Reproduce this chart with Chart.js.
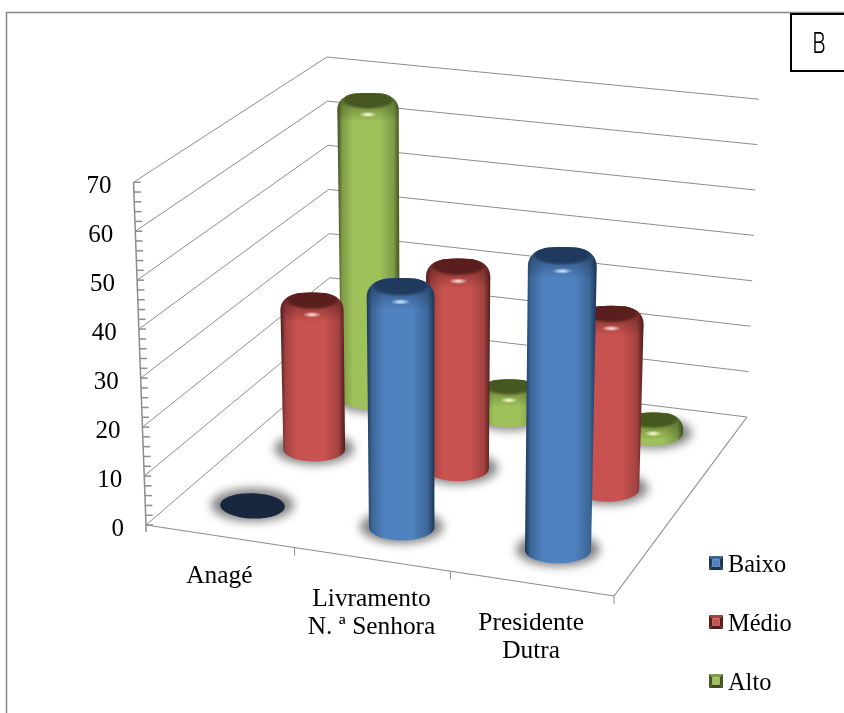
<!DOCTYPE html>
<html>
<head>
<meta charset="utf-8">
<title>B</title>
<script src="https://cdn.jsdelivr.net/npm/chart.js@4/dist/chart.umd.min.js"></script>
<style>
  html, body { margin: 0; padding: 0; background: #fff; }
  canvas { display: block; }
</style>
</head>
<body>
<canvas id="chart" width="844" height="713"></canvas>
<script>
/* DATA */
const categories = ["Anagé", "Livramento\nN. ª Senhora", "Presidente\nDutra"];
const seriesNames = ["Baixo", "Médio", "Alto"];
const baixo = [0, 48.5, 59];
const medio = [31, 42, 36];
const alto = [65, 5.5, 2.2];
const panelLetter = "B";

/* COLOURS */
const palette = [
  { mid: "#4f82c0", edge: "#1b3554", soft: "#3c6697", cap: "#1f3a5c", disc: "#17283e", glow: "#cfe8ff" },
  { mid: "#c8524f", edge: "#4f1b1a", soft: "#a24341", cap: "#5a1f1d", disc: "#4a1716", glow: "#ffe2de" },
  { mid: "#9ec15a", edge: "#3c4c1c", soft: "#7f9c47", cap: "#465722", disc: "#3c4c1c", glow: "#f4ffd0" }
];
const GRID = "#8c8c8c";
const SERIF = '"Liberation Serif", "Times New Roman", serif';

/* CAMERA: the box of the 3D plot as seen in the picture */
const floor = { fl: [146, 525], fr: [614, 596], br: [747, 417], bl: [331, 366] };
const wallHeight = { fl: 343, fr: 352, br: 318, bl: 309 };
const vanish = [439, 8572];

const hom = (() => {
  const [x0, y0] = floor.fl, [x1, y1] = floor.fr, [x2, y2] = floor.br, [x3, y3] = floor.bl;
  const sx = x0 - x1 + x2 - x3, sy = y0 - y1 + y2 - y3;
  const dx1 = x1 - x2, dx2 = x3 - x2, dy1 = y1 - y2, dy2 = y3 - y2;
  const den = dx1 * dy2 - dx2 * dy1;
  const g = (sx * dy2 - dx2 * sy) / den, h = (dx1 * sy - sx * dy1) / den;
  return { a: x1 - x0 + g * x1, b: x3 - x0 + h * x3, c: x0, d: y1 - y0 + g * y1, e: y3 - y0 + h * y3, f: y0, g, h };
})();

function floorPoint(u, w) {
  const q = hom.g * u + hom.h * w + 1;
  return [(hom.a * u + hom.b * w + hom.c) / q, (hom.d * u + hom.e * w + hom.f) / q];
}
function localHeight(u, w) {
  const front = wallHeight.fl + (wallHeight.fr - wallHeight.fl) * u;
  const back = wallHeight.bl + (wallHeight.br - wallHeight.bl) * u;
  return front + (back - front) * w;
}
// lift a floor point straight up by frac of the full axis height
function lift(u, w, frac) {
  const p = floorPoint(u, w);
  const dx = p[0] - vanish[0], dy = p[1] - vanish[1];
  const len = Math.hypot(dx, dy);
  const h = localHeight(u, w) * frac;
  return [p[0] + dx / len * h, p[1] + dy / len * h];
}

/* HELPERS */
function line(ctx, a, b) {
  ctx.beginPath();
  ctx.moveTo(a[0], a[1]);
  ctx.lineTo(b[0], b[1]);
  ctx.stroke();
}
function bodyGradient(ctx, x0, x1, c) {
  const g = ctx.createLinearGradient(x0, 0, x1, 0);
  g.addColorStop(0, c.edge);
  g.addColorStop(0.08, c.soft);
  g.addColorStop(0.26, c.mid);
  g.addColorStop(0.68, c.mid);
  g.addColorStop(0.9, c.soft);
  g.addColorStop(1, c.edge);
  return g;
}
function floorShadow(ctx, p, rx, ry) {
  ctx.save();
  ctx.filter = "blur(5px)";
  ctx.fillStyle = "rgba(85,85,85,0.72)";
  ctx.beginPath();
  ctx.ellipse(p[0], p[1] - 1, rx + 9, ry + 4, 0, 0, Math.PI * 2);
  ctx.fill();
  ctx.restore();
}
// body outline with rounded shoulders at the top
function cylinderPath(ctx, base, top, rx0, ry0, rx1, ry1) {
  const tx = top[0], ty = top[1];
  ctx.beginPath();
  ctx.moveTo(tx - rx1, ty + ry1 * 0.5);
  ctx.lineTo(base[0] - rx0, base[1]);
  ctx.ellipse(base[0], base[1], rx0, ry0, 0, Math.PI, 0, true);
  ctx.lineTo(tx + rx1, ty + ry1 * 0.5);
  ctx.bezierCurveTo(tx + rx1, ty - ry1 * 0.3, tx + rx1 * 0.78, ty - ry1 * 0.8, tx + rx1 * 0.45, ty - ry1 * 0.96);
  ctx.quadraticCurveTo(tx, ty - ry1 * 1.08, tx - rx1 * 0.45, ty - ry1 * 0.96);
  ctx.bezierCurveTo(tx - rx1 * 0.78, ty - ry1 * 0.8, tx - rx1, ty - ry1 * 0.3, tx - rx1, ty + ry1 * 0.5);
  ctx.closePath();
}

function drawCylinder(ctx, u, w, frac, c) {
  const base = floorPoint(u, w);
  const top = lift(u, w, frac);
  const rx0 = localHeight(u, w) * (0.0965 - 0.0045 * w);
  const ry0 = rx0 * 0.39;
  const rx1 = rx0 * (1 + frac * 0.05);
  const ry1 = rx1 * 0.37;

  floorShadow(ctx, base, rx0, ry0);

  if (frac === 0) {
    ctx.fillStyle = c.disc;
    ctx.beginPath();
    ctx.ellipse(base[0], base[1], rx0, ry0, 0.03, 0, Math.PI * 2);
    ctx.fill();
    return;
  }

  ctx.save();
  cylinderPath(ctx, base, top, rx0, ry0, rx1, ry1);
  ctx.fillStyle = bodyGradient(ctx, Math.min(base[0] - rx0, top[0] - rx1), Math.max(base[0] + rx0, top[0] + rx1), c);
  ctx.fill();
  ctx.clip();

  // shoulders get darker towards the cap
  const sh = ctx.createLinearGradient(0, top[1] - ry1, 0, top[1] + ry1 * 1.5);
  sh.addColorStop(0, c.cap + "cc");
  sh.addColorStop(1, c.cap + "00");
  ctx.fillStyle = sh;
  ctx.fillRect(top[0] - rx1 - 4, top[1] - ry1 - 2, rx1 * 2 + 8, ry1 * 2.6);

  // dark cap
  ctx.filter = "blur(1px)";
  ctx.fillStyle = c.cap;
  ctx.beginPath();
  ctx.ellipse(top[0], top[1] - ry1 * 0.4, rx1 * 0.8, ry1 * 0.75, 0, 0, Math.PI * 2);
  ctx.fill();
  ctx.filter = "none";

  // small highlight below the cap
  const glow = ctx.createRadialGradient(0, 0, 0, 0, 0, 1);
  glow.addColorStop(0, c.glow);
  glow.addColorStop(0.5, c.glow + "88");
  glow.addColorStop(1, c.glow + "00");
  ctx.translate(top[0], top[1] + ry1 * 0.88);
  ctx.scale(rx1 * 0.3, 3);
  ctx.fillStyle = glow;
  ctx.beginPath();
  ctx.arc(0, 0, 1, 0, Math.PI * 2);
  ctx.fill();
  ctx.restore();
}

function drawLegendKey(ctx, x, y, s, c) {
  const e = 3.5, r = x + s, b = y + s;
  const facet = (col, pts) => {
    ctx.fillStyle = col;
    ctx.beginPath();
    pts.forEach((p, i) => (i ? ctx.lineTo(p[0], p[1]) : ctx.moveTo(p[0], p[1])));
    ctx.closePath();
    ctx.fill();
  };
  facet(c.soft, [[x, y], [r, y], [r - e, y + e], [x + e, y + e]]);
  facet(c.cap, [[r, y], [r, b], [r - e, b - e], [r - e, y + e]]);
  facet(c.edge, [[r, b], [x, b], [x + e, b - e], [r - e, b - e]]);
  facet(c.cap, [[x, b], [x, y], [x + e, y + e], [x + e, b - e]]);
  ctx.fillStyle = c.mid;
  ctx.fillRect(x + e, y + e, s - 2 * e, s - 2 * e);
}

/* 3D PLUGIN */
const box3d = {
  id: "box3d",
  beforeDatasetsDraw(chart) {
    const ctx = chart.ctx;
    const y = chart.scales.y, x = chart.scales.x;
    const fracOf = (v) => (y.getPixelForValue(0) - y.getPixelForValue(v)) / (y.getPixelForValue(0) - y.getPixelForValue(y.max));

    ctx.save();
    // page frame and letter box
    ctx.strokeStyle = "#858585";
    ctx.lineWidth = 1.5;
    ctx.beginPath();
    ctx.moveTo(6.5, 713);
    ctx.lineTo(6.5, 12.5);
    ctx.lineTo(844, 12.5);
    ctx.stroke();
    ctx.fillStyle = "#fff";
    ctx.fillRect(790, 13, 54, 59);
    ctx.strokeStyle = "#000";
    ctx.lineWidth = 2;
    ctx.strokeRect(791, 14, 60, 57);

    // walls
    ctx.strokeStyle = GRID;
    ctx.lineWidth = 1;
    y.ticks.forEach((t) => {
      const f = fracOf(t.value);
      const a = lift(0, 0, f), b = lift(0, 1, f), c = lift(1, 1, f);
      ctx.beginPath();
      ctx.moveTo(a[0], a[1]);
      ctx.lineTo(b[0], b[1]);
      ctx.lineTo(c[0], c[1]);
      ctx.stroke();
    });
    // floor edges
    ctx.lineWidth = 1.2;
    line(ctx, floor.fl, floor.fr);
    line(ctx, floor.fr, floor.br);
    // value axis with its minor ticks
    ctx.lineWidth = 1.5;
    line(ctx, lift(0, 0, 0), lift(0, 0, 1));
    line(ctx, floor.fl, [floor.fl[0], floor.fl[1] + 7]);
    for (let v = y.min; v <= y.max; v += 2) {
      const p = lift(0, 0, fracOf(v));
      line(ctx, p, [p[0] + 7, p[1]]);
    }
    // category ticks
    ctx.lineWidth = 1;
    for (let i = 1; i <= categories.length; i++) {
      const p = floorPoint(i / categories.length, 0);
      line(ctx, p, [p[0], p[1] + 8]);
    }

    // cylinders, back row first
    const uOf = (i) => (x.getPixelForValue(i) - chart.chartArea.left) / chart.chartArea.width;
    for (let s = chart.data.datasets.length - 1; s >= 0; s--) {
      const w = (s + 0.5) / chart.data.datasets.length;
      chart.data.datasets[s].data.forEach((v, i) => {
        drawCylinder(ctx, uOf(i), w, fracOf(v), palette[s]);
      });
    }

    // value labels follow the slanted axis
    ctx.fillStyle = "#000";
    ctx.font = "25px " + SERIF;
    ctx.textAlign = "right";
    ctx.textBaseline = "alphabetic";
    y.ticks.forEach((t) => {
      const p = lift(0, 0, fracOf(t.value));
      ctx.fillText(String(t.value), p[0] - 22, p[1] + 11);
    });

    // category labels under the front edge
    ctx.font = "25.4px " + SERIF;
    ctx.textAlign = "center";
    categories.forEach((name, i) => {
      const p = floorPoint(uOf(i), 0);
      name.split("\n").forEach((part, k) => {
        ctx.fillText(part, p[0], p[1] + 47 + k * 28);
      });
    });

    // legend
    ctx.textAlign = "left";
    ctx.font = "24.4px " + SERIF;
    seriesNames.forEach((name, s) => {
      const top = 556 + s * 59;
      drawLegendKey(ctx, 709, top, 14, palette[s]);
      ctx.fillStyle = "#000";
      ctx.fillText(name, 728, top + 16);
    });

    // panel letter, narrow and thin
    ctx.save();
    ctx.translate(819, 53);
    ctx.scale(0.72, 1);
    ctx.font = '300 29px Inter, "Liberation Sans", sans-serif';
    ctx.textAlign = "center";
    ctx.fillText(panelLetter, 0, 0);
    ctx.restore();
    ctx.restore();
  }
};

/* CHART */
new Chart(document.getElementById("chart"), {
  type: "bar",
  data: {
    labels: categories,
    datasets: [
      { label: seriesNames[0], data: baixo, backgroundColor: "transparent" },
      { label: seriesNames[1], data: medio, backgroundColor: "transparent" },
      { label: seriesNames[2], data: alto, backgroundColor: "transparent" }
    ]
  },
  options: {
    responsive: false,
    animation: false,
    layout: { padding: { left: 146, right: 230, top: 182, bottom: 188 } },
    plugins: { legend: { display: false }, title: { display: false }, tooltip: { enabled: false } },
    scales: {
      x: { display: false },
      y: { display: false, min: 0, max: 70, ticks: { stepSize: 10 } }
    }
  },
  plugins: [box3d]
});
</script>
</body>
</html>
